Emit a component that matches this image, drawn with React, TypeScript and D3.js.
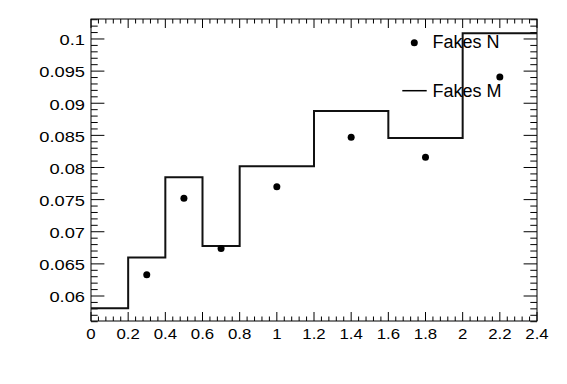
import React from "react";
import * as d3 from "d3";

const binEdges = [0, 0.2, 0.4, 0.6, 0.8, 1.2, 1.6, 2.0, 2.4];
const histValues = [0.0581, 0.066, 0.0785, 0.0678, 0.0802, 0.0888, 0.0846, 0.1009];
const pointX = [0.3, 0.5, 0.7, 1.0, 1.4, 1.8, 2.2];
const pointY = [0.0633, 0.0752, 0.0674, 0.077, 0.0847, 0.0816, 0.0941];
const xTickLabels = ["0", "0.2", "0.4", "0.6", "0.8", "1", "1.2", "1.4", "1.6", "1.8", "2", "2.2", "2.4"];
const yTickLabels = ["0.06", "0.065", "0.07", "0.075", "0.08", "0.085", "0.09", "0.095", "0.1"];
const legendLabels = ["Fakes N", "Fakes M"];

const W = 567;
const H = 384;
const L = 91, R = 537, T = 19, B = 321;
const FONT = "'Liberation Sans', Arial, Helvetica, sans-serif";

export default function App() {
  const x = d3.scaleLinear().domain([0, 2.4]).range([L, R]);
  const y = d3.scaleLinear().domain([0.05611, 0.10311]).range([B, T]);

  const stepData: [number, number][] = [];
  histValues.forEach((v, i) => {
    stepData.push([binEdges[i], v]);
    stepData.push([binEdges[i + 1], v]);
  });
  const line = d3.line<[number, number]>().x(d => x(d[0])).y(d => y(d[1]));

  const xMinor = d3.range(0, 61).map(i => i * 0.04);
  const yMinor = d3.range(56, 104).map(i => i / 1000);

  const xMajLen = 9, xMinLen = 4.5, yMajLen = 13.4, yMinLen = 6.7;

  return (
    <svg width={W} height={H} style={{ position: "absolute", left: 0, top: 0, background: "#fff" }}>
      <rect x={0} y={0} width={W} height={H} fill="#fff" />
      {xMinor.map((v, i) => {
        const major = i % 5 === 0;
        const len = major ? xMajLen : xMinLen;
        return (
          <g key={"xt" + i} stroke="#000" strokeWidth={1}>
            <line x1={x(v)} x2={x(v)} y1={B} y2={B - len} />
            <line x1={x(v)} x2={x(v)} y1={T} y2={T + len} />
          </g>
        );
      })}
      {yMinor.map((v, i) => {
        const major = Math.round(v * 1000) % 5 === 0;
        const len = major ? yMajLen : yMinLen;
        return (
          <g key={"yt" + i} stroke="#000" strokeWidth={1}>
            <line x1={L} x2={L + len} y1={y(v)} y2={y(v)} />
            <line x1={R} x2={R - len} y1={y(v)} y2={y(v)} />
          </g>
        );
      })}
      <rect x={L} y={T} width={R - L} height={B - T} fill="none" stroke="#000" strokeWidth={1} />
      {xTickLabels.map((t, i) => (
        <g key={"xl" + i} transform={`translate(${x(+t)},338.7) scale(1.2,1)`}>
          <text x={0} y={0} textAnchor="middle" fontFamily={FONT} fontSize={14} fill="#000">
            {t}
          </text>
        </g>
      ))}
      {yTickLabels.map((t, i) => (
        <g key={"yl" + i} transform={`translate(85,${y(+t) + 6.3}) scale(1.22,1)`}>
          <text x={0} y={0} textAnchor="end" fontFamily={FONT} fontSize={15} fill="#000">
            {t}
          </text>
        </g>
      ))}
      <path d={line(stepData) || ""} fill="none" stroke="#111" strokeWidth={2} />
      {pointX.map((v, i) => (
        <circle key={"p" + i} cx={x(v)} cy={y(pointY[i])} r={3.5} fill="#000" />
      ))}
      <circle cx={414.3} cy={42.7} r={3.5} fill="#000" />
      <text x={432.5} y={48.3} fontFamily={FONT} fontSize={18} fill="#000">{legendLabels[0]}</text>
      <line x1={402.3} x2={426.7} y1={90.7} y2={90.7} stroke="#000" strokeWidth={1.5} />
      <text x={432.5} y={97.3} fontFamily={FONT} fontSize={18} fill="#000">{legendLabels[1]}</text>
    </svg>
  );
}
